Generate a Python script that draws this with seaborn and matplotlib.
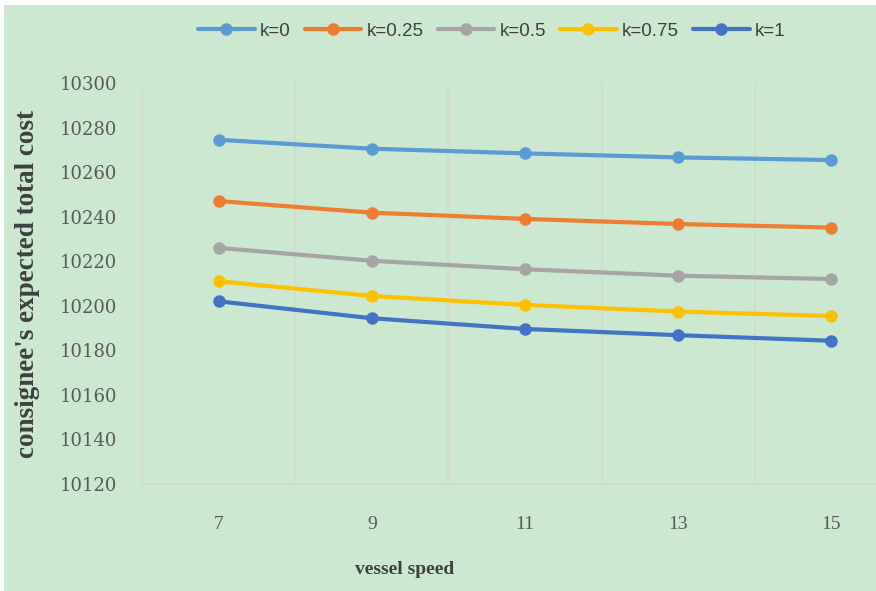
import matplotlib
matplotlib.use("Agg")
import matplotlib.pyplot as plt
from matplotlib.patches import Rectangle
import seaborn as sns
import pandas as pd
import numpy as np

speeds = [7, 9, 11, 13, 15]
k_labels = ["k=0", "k=0.25", "k=0.5", "k=0.75", "k=1"]
cost_k0 = [10274.5, 10270.5, 10268.4, 10266.6, 10265.4]
cost_k025 = [10247.0, 10241.8, 10239.0, 10236.7, 10235.1]
cost_k05 = [10226.0, 10220.2, 10216.4, 10213.5, 10212.0]
cost_k075 = [10211.0, 10204.4, 10200.4, 10197.4, 10195.4]
cost_k1 = [10202.0, 10194.4, 10189.6, 10186.8, 10184.3]
yticks = [10120, 10140, 10160, 10180, 10200, 10220, 10240, 10260, 10280, 10300]

series = [cost_k0, cost_k025, cost_k05, cost_k075, cost_k1]
df = pd.DataFrame({
    "speed": speeds * len(k_labels),
    "cost": sum(series, []),
    "k": [lab for lab in k_labels for _ in speeds],
})

palette = ["#5B9BD5", "#ED7D31", "#A5A5A5", "#FFC000", "#4472C4"]
bg = "#CCE8D0"
grid_c = "#D3DAD3"

sns.set_theme(style="white")
fig = plt.figure(figsize=(8.76, 5.91), dpi=100, facecolor="white")
W, H = 876, 591
fig.patches.append(Rectangle((4 / W, 0), 1 - 4 / W, 1 - 5 / H, transform=fig.transFigure,
                             facecolor=bg, edgecolor="none", zorder=-10))

left, right, top, bottom = 142, 908, 83, 484
ax = fig.add_axes([left / W, 1 - bottom / H, (right - left) / W, (bottom - top) / H])
ax.set_facecolor("none")

sns.lineplot(data=df, x="speed", y="cost", hue="k", hue_order=k_labels, palette=palette,
             marker="o", markersize=9, markeredgewidth=0, linewidth=3.0, ax=ax, legend=False,
             zorder=3)

ax.set_xlim(6, 16)
ax.set_ylim(10120, 10300)
ax.set_xticks(speeds)
ax.set_xticks([6, 8, 10, 12, 14, 16], minor=True)
ax.set_yticks(yticks)
ax.grid(False)
ax.grid(True, which="minor", axis="x", color=grid_c, linewidth=1.3, zorder=1)
for s in ["left", "right", "top"]:
    ax.spines[s].set_visible(False)
ax.spines["bottom"].set_color(grid_c)
ax.spines["bottom"].set_linewidth(1.3)

ax.tick_params(axis="both", which="both", length=0)
ax.tick_params(axis="y", pad=18, labelsize=13, labelcolor="#595959")
ax.tick_params(axis="x", pad=23, labelsize=14, labelcolor="#595959")
for lab in ax.get_yticklabels():
    lab.set_family("DejaVu Serif")
for lab in ax.get_xticklabels():
    lab.set_family("Liberation Serif")

ax.set_ylabel("consignee's expected total cost", fontsize=19.5, fontweight="bold",
              family="Liberation Serif", color="#404040", va="center")
ax.yaxis.set_label_coords((28 - left) / (right - left), 0.5)
ax.set_xlabel("vessel speed", fontsize=14, fontweight="bold",
              family="Liberation Serif", color="#404040", va="center")
ax.xaxis.set_label_coords((405 - left) / (right - left), (bottom - 570) / (bottom - top))

handles = ax.lines[:len(k_labels)]
fig.legend(handles, k_labels, loc="center", bbox_to_anchor=(492 / W, 1 - 31 / H),
           ncol=5, frameon=False, handlelength=3.0, handletextpad=0.3,
           columnspacing=0.75, labelcolor="#404040",
           prop={"family": ["Liberation Sans Narrow", "Liberation Sans"], "size": 13.5})

fig.savefig("out.png", dpi=100, facecolor="white")
